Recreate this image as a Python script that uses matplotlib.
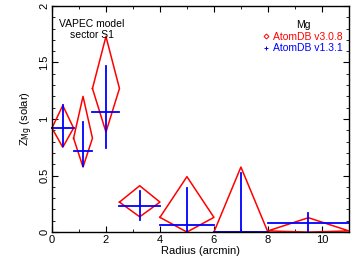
import matplotlib
matplotlib.use("Agg")
import matplotlib.pyplot as plt
from matplotlib.lines import Line2D
from matplotlib.ticker import MultipleLocator

plt.rcParams['font.family'] = ['Liberation Sans', 'DejaVu Sans']

# bins (arcmin)
x_center = [0.4, 1.15, 2.0, 3.25, 5.0, 7.0, 9.5]
x_halfwidth = [0.4, 0.35, 0.5, 0.75, 1.0, 1.0, 1.5]

# AtomDB v3.0.8 (red diamonds)
new_val = [0.92, 0.83, 1.27, 0.265, 0.13, 0.0, 0.01]
new_hi = [1.12, 1.20, 1.73, 0.41, 0.49, 0.575, 0.127]
new_lo = [0.75, 0.575, 0.885, 0.135, 0.0, 0.0, 0.0]

# AtomDB v1.3.1 (blue crosses)
old_val = [0.92, 0.715, 1.06, 0.23, 0.06, 0.0, 0.082]
old_hi = [1.12, 0.97, 1.47, 0.36, 0.39, 0.52, 0.165]
old_lo = [0.76, 0.58, 0.74, 0.105, 0.0, 0.0, 0.0]

red = '#ff0000'
blue = '#0000ff'

fig = plt.figure(figsize=(3.56, 2.59), dpi=100)
ax = fig.add_axes([0.146, 0.104, 0.834, 0.873])

for xc, dx, y, hi, lo in zip(x_center, x_halfwidth, new_val, new_hi, new_lo):
    ax.plot([xc - dx, xc, xc + dx, xc, xc - dx], [y, hi, y, lo, y],
            color=red, lw=1.1, clip_on=False)

for xc, dx, y, hi, lo in zip(x_center, x_halfwidth, old_val, old_hi, old_lo):
    ax.plot([xc - dx, xc + dx], [y, y], color=blue, lw=1.3, clip_on=False)
    ax.plot([xc, xc], [lo, hi], color=blue, lw=1.3, clip_on=False)

ax.set_xlim(0, 11)
ax.set_ylim(0, 2)
ax.xaxis.set_major_locator(MultipleLocator(2))
ax.xaxis.set_minor_locator(MultipleLocator(1))
ax.yaxis.set_major_locator(MultipleLocator(0.5))
ax.yaxis.set_minor_locator(MultipleLocator(0.1))
ax.tick_params(which='both', direction='in', top=True, right=True, labelsize=8)
ax.tick_params(which='major', length=4)
ax.tick_params(which='minor', length=2)
ax.set_xticks([0, 2, 4, 6, 8, 10])
ax.set_xticklabels(['0', '2', '4', '6', '8', '10'])
ax.set_yticks([0, 0.5, 1, 1.5, 2])
ax.set_yticklabels(['0', '0.5', '1', '1.5', '2'], rotation=90, va='center')
ax.tick_params(axis='x', pad=2)
ax.tick_params(axis='y', pad=2)
for s in ax.spines.values():
    s.set_linewidth(1.0)

ax.set_xlabel('Radius (arcmin)', fontsize=8, labelpad=1)
ax.set_ylabel(r'Z$_{\rm Mg}$ (solar)', fontsize=8, labelpad=3)

ax.text(1.48, 1.79, 'VAPEC model\nsector S1', ha='center', va='center',
        fontsize=7.5, linespacing=1.05)

handles = [Line2D([], [], color=red, marker='D', markersize=2.5, mfc='none',
                  lw=0, mew=0.7),
           Line2D([], [], color=blue, marker='+', markersize=3, lw=0, mew=0.7)]
leg = ax.legend(handles, ['AtomDB v3.0.8', 'AtomDB v1.3.1'], title='Mg',
                loc='upper right', bbox_to_anchor=(1.005, 0.97), frameon=False,
                fontsize=7.5, title_fontsize=7.5, handlelength=0.6,
                handletextpad=0.4, labelspacing=0.15, borderpad=0.2,
                labelcolor='linecolor')

fig.savefig('out.png', dpi=100)
